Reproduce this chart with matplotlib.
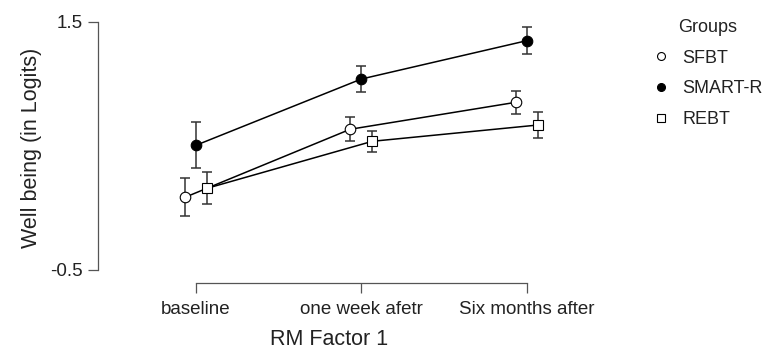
import numpy as np
import matplotlib.pyplot as plt

plt.rcParams['font.family'] = ['Liberation Sans', 'DejaVu Sans']

# data
categories = ['baseline', 'one week afetr', 'Six months after']
groups = ['SFBT', 'SMART-R', 'REBT']
sfbt_mean = [0.086, 0.635, 0.852]
sfbt_err = [0.152, 0.097, 0.093]
smart_mean = [0.506, 1.040, 1.349]
smart_err = [0.184, 0.107, 0.110]
rebt_mean = [0.159, 0.538, 0.669]
rebt_err = [0.129, 0.087, 0.102]

series = [
    (sfbt_mean, sfbt_err, 'o', 'white', 7.6),
    (smart_mean, smart_err, 'o', 'black', 7.6),
    (rebt_mean, rebt_err, 's', 'white', 7.0),
]
dodge = [-0.067, 0.0, 0.067]

W, H = 770, 352
fig = plt.figure(figsize=(W / 100, H / 100), dpi=100)

# axes placed in pixels: left spine at x=98, bottom spine at y=283
ax_left, ax_right, ax_top, ax_bottom = 98, 560, 12, 283
ax = fig.add_axes([ax_left / W, (H - ax_bottom) / H,
                   (ax_right - ax_left) / W, (ax_bottom - ax_top) / H])

px_x = 165.3  # pixels per category
px_y = 124.0  # pixels per logit
ax.set_xlim(-(196 - ax_left) / px_x, (ax_right - 196) / px_x)
ax.set_ylim(-0.5 - (ax_bottom - 270) / px_y, 1.5 + (22 - ax_top) / px_y)

x = np.arange(len(categories))
for (m, e, mk, fc, ms), d, name in zip(series, dodge, groups):
    ax.errorbar(x + d, m, yerr=e, fmt='none', ecolor='#333333',
                elinewidth=1.1, capsize=3.6, capthick=1.1, zorder=2)
    ax.plot(x + d, m, color='black', lw=1.1, zorder=3)
    ax.plot(x + d, m, linestyle='none', marker=mk, markersize=ms,
            markerfacecolor=fc, markeredgecolor='black',
            markeredgewidth=0.8, zorder=4, label=name)

for s in ['top', 'right']:
    ax.spines[s].set_visible(False)
ax.spines['left'].set_bounds(-0.5, 1.5)
ax.spines['bottom'].set_bounds(0, 2)
for s in ['left', 'bottom']:
    ax.spines[s].set_color('#555555')
    ax.spines[s].set_linewidth(0.9)

ax.set_yticks([-0.5, 1.5])
ax.set_yticklabels(['-0.5', '1.5'])
ax.set_xticks(x)
ax.set_xticklabels(categories)
ax.tick_params(axis='both', length=7, width=0.9, color='#555555',
               labelsize=13.5, labelcolor='#222222')
ax.tick_params(axis='x', pad=6)
ax.tick_params(axis='y', pad=4)

ax.set_xlabel('RM Factor 1', fontsize=15.5, color='#222222', labelpad=8)
ax.set_ylabel('Well being (in Logits)', fontsize=15.5, color='#222222', labelpad=6)

# legend
handles = []
for (m, e, mk, fc, ms) in series:
    h, = ax.plot([], [], linestyle='none', marker=mk, markersize=ms * 0.75,
                 markerfacecolor=fc, markeredgecolor='black', markeredgewidth=0.8)
    handles.append(h)
leg = fig.legend(handles, groups, title='Groups', loc='upper left',
                 bbox_to_anchor=(636 / W, 1 - 3 / H), frameon=False,
                 fontsize=13, title_fontsize=13, labelspacing=0.75,
                 handletextpad=0.65, handlelength=1.0)
leg.get_title().set_color('#222222')
for t in leg.get_texts():
    t.set_color('#222222')

fig.savefig('out.png', dpi=100)
